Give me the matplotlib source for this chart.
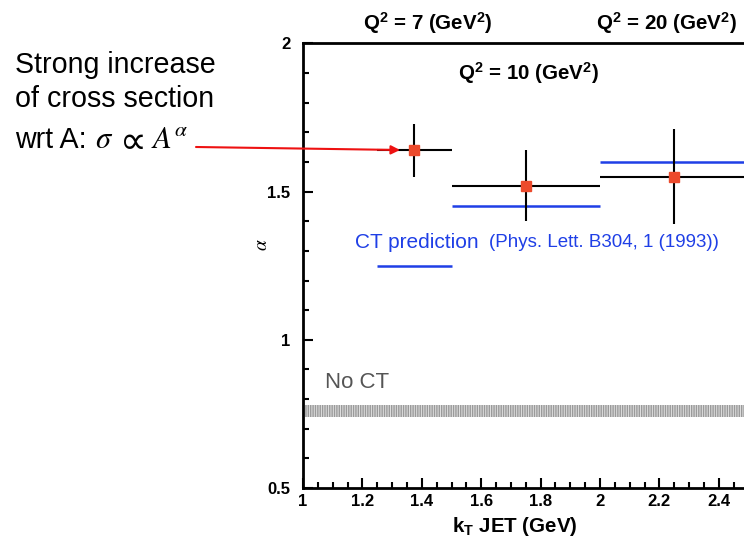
import numpy as np
import matplotlib
matplotlib.use('Agg')
import matplotlib.pyplot as plt
from matplotlib.ticker import MultipleLocator

plt.rcParams['font.family'] = ['Liberation Sans', 'DejaVu Sans']
plt.rcParams['mathtext.fontset'] = 'custom'
plt.rcParams['mathtext.rm'] = 'Liberation Sans'
plt.rcParams['mathtext.bf'] = 'Liberation Sans:bold'
plt.rcParams['mathtext.it'] = 'Liberation Sans:italic'

# measured alpha vs kT bins
kt_lo = [1.25, 1.5, 2.0]
kt_hi = [1.5, 2.0, 2.5]
kt_mid = [1.375, 1.75, 2.25]
alpha = [1.64, 1.52, 1.55]
alpha_err = [0.09, 0.12, 0.16]

# colour transparency prediction per bin
ct_lo = [1.25, 1.5, 2.0]
ct_hi = [1.5, 2.0, 2.5]
ct_alpha = [1.25, 1.45, 1.60]

# no-CT band
noct_lo, noct_hi = 0.74, 0.78

q2_labels = [r'Q$^\mathbf{2}$ = 7 (GeV$^\mathbf{2}$)',
             r'Q$^\mathbf{2}$ = 10 (GeV$^\mathbf{2}$)',
             r'Q$^\mathbf{2}$ = 20 (GeV$^\mathbf{2}$)']

fig = plt.figure(figsize=(7.44, 5.39), dpi=100)
ax = fig.add_axes([0.4073, 0.0946, 0.5988, 0.8247])

ax.fill_between([1.005, 2.5], noct_lo, noct_hi, facecolor='#e0e0e0',
                edgecolor='#9a9a9a', hatch='|||||||', linewidth=0)
ax.text(1.073, 0.855, 'No CT', color='#555555', fontsize=16, va='center')

ax.hlines(ct_alpha, ct_lo, ct_hi, colors='#1f3fe6', lw=1.8)
ax.text(1.175, 1.33, 'CT prediction', color='#1f3fe6', fontsize=15, va='center')
ax.text(1.625, 1.33, '(Phys. Lett. B304, 1 (1993))', color='#1f3fe6', fontsize=13.5, va='center')

xerr = [np.array(kt_mid) - np.array(kt_lo), np.array(kt_hi) - np.array(kt_mid)]
ax.errorbar(kt_mid, alpha, xerr=xerr, yerr=alpha_err, fmt='s', color='black',
            ecolor='black', elinewidth=1.5, capsize=0, ms=6.5,
            mfc='#ec4a2c', mec='#ec4a2c', zorder=3)

ax.set_xlim(1, 2.5)
ax.set_ylim(0.5, 2)
ax.xaxis.set_minor_locator(MultipleLocator(0.05))
ax.yaxis.set_minor_locator(MultipleLocator(0.1))
ax.set_xticks([1, 1.2, 1.4, 1.6, 1.8, 2, 2.2, 2.4])
ax.set_xticklabels(['1', '1.2', '1.4', '1.6', '1.8', '2', '2.2', '2.4'], fontweight='bold')
ax.set_yticks([0.5, 1, 1.5, 2])
ax.set_yticklabels(['0.5', '1', '1.5', '2'], fontweight='bold')
ax.tick_params(which='both', direction='in', top=False, right=False, width=1.5)
ax.tick_params(which='major', length=7, labelsize=12)
ax.tick_params(axis='x', which='major', pad=4)
ax.tick_params(axis='y', which='major', pad=9)
ax.tick_params(which='minor', length=4)
for s in ax.spines.values():
    s.set_linewidth(2)

ax.set_xlabel(r'k$_\mathbf{T}$ JET (GeV)', fontsize=14.8, fontweight='bold')
ax.xaxis.set_label_coords(0.476, -0.06)
# alpha label sits a bit above the axis middle
ax.text(-0.09, 1.32, r'$\alpha$', fontsize=14, math_fontfamily='stix',
        rotation=90, ha='center', va='center', transform=ax.get_yaxis_transform())

ax.text(1.42, 2.07, q2_labels[0], fontsize=14.8, fontweight='bold', ha='center', va='center')
ax.text(1.76, 1.9, q2_labels[1], fontsize=14.8, fontweight='bold', ha='center', va='center')
ax.text(2.225, 2.07, q2_labels[2], fontsize=14.8, fontweight='bold', ha='center', va='center')

fig.text(15/744, 1 - 72.7/539, 'Strong increase', fontsize=20.6, va='baseline')
fig.text(15/744, 1 - 107.3/539, 'of cross section', fontsize=20.6, va='baseline')
fig.text(15/744, 1 - 148.5/539, 'wrt A:', fontsize=20.6, va='baseline')
fig.text(95/744, 1 - 148.5/539, r'$\sigma$', fontsize=22,
         math_fontfamily='stix', va='baseline')
fig.text(112/744, 1 - 141/539, r'$\propto$', fontsize=27, fontweight='bold',
         math_fontfamily='dejavusans', va='center')
fig.text(151/744, 1 - 148.5/539, r'$A^{\alpha}$', fontsize=22,
         math_fontfamily='stix', va='baseline')

ax.annotate('', xy=(400/744, 1 - 150/539), xycoords='figure fraction',
            xytext=(196/744, 1 - 147/539), textcoords='figure fraction',
            arrowprops=dict(arrowstyle='-|>', color='#ee1111', lw=1.5,
                            mutation_scale=13, shrinkA=0, shrinkB=0))

fig.savefig('out.png', dpi=100)
